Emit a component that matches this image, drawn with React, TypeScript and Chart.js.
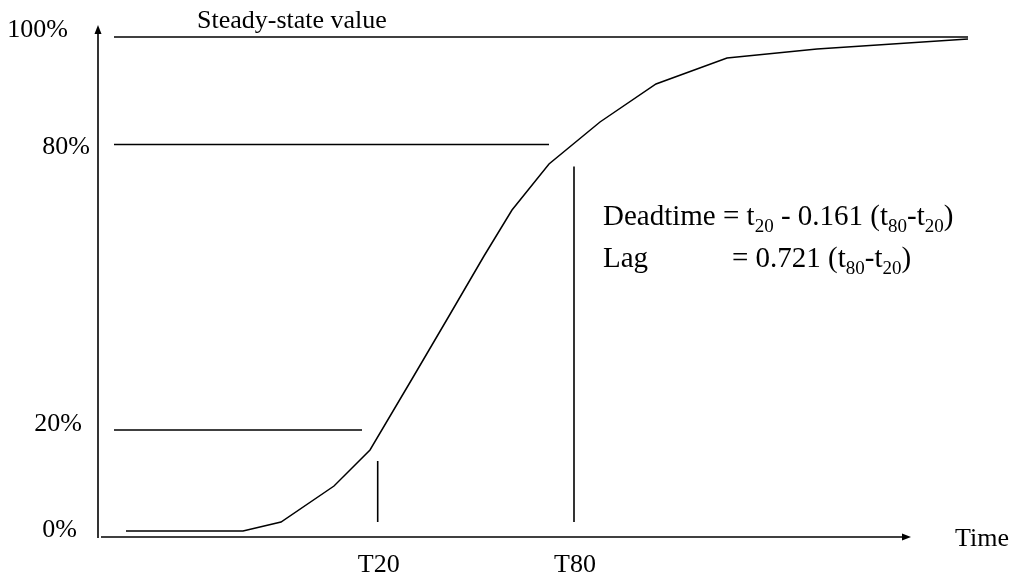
import React, { useEffect, useRef } from "react";
import { Chart, registerables } from "chart.js";

Chart.register(...registerables);

// Response curve (time in arbitrary units, response in % of steady state)
const timeValues = [2.8, 14.5, 18.3, 23.6, 27.2, 31.4, 35.1, 38.6, 41.4, 45.1, 50.2, 55.8, 62.9, 71.9, 87.0];
const responseValues = [1.2, 1.2, 3.0, 10.2, 17.4, 31.6, 44.2, 56.2, 65.4, 74.6, 83.0, 90.6, 95.8, 97.6, 99.6];

// Horizontal reference levels
const levelNames = ["Steady-state", "80%", "20%"];
const levelValues = [100, 78.5, 21.4];
const levelStart = 1.6;
const levelEnds = [87, 45.1, 26.4];

// Y tick labels
const tickLabels = ["100%", "80%", "20%", "0%"];
const tickValues = [100, 78.5, 21.4, 0];

// Vertical T20 / T80 markers
const markerLabels = ["T20", "T80"];
const markerTimes = [27.97, 47.6];
const markerTops = [15.2, 74.1];
const markerBottom = 3.0;

const AXIS_ARROW_X = 81.3;
const AXIS_ARROW_Y = 102.4;

const SERIF = '"Liberation Serif", "Times New Roman", serif';

const annotationPlugin = {
  id: "diagramAnnotations",
  afterDraw(chart: any) {
    const ctx = chart.ctx as CanvasRenderingContext2D;
    const xs = chart.scales.x;
    const ys = chart.scales.y;
    const x0 = xs.getPixelForValue(0);
    const y0 = ys.getPixelForValue(0);
    ctx.save();
    ctx.strokeStyle = "#000";
    ctx.fillStyle = "#000";
    ctx.lineWidth = 1.6;

    // Y axis with arrow
    const yTip = ys.getPixelForValue(AXIS_ARROW_Y);
    ctx.beginPath();
    ctx.moveTo(x0, y0 + 1);
    ctx.lineTo(x0, yTip + 6);
    ctx.stroke();
    ctx.beginPath();
    ctx.moveTo(x0, yTip);
    ctx.lineTo(x0 - 3.5, yTip + 9);
    ctx.lineTo(x0 + 3.5, yTip + 9);
    ctx.closePath();
    ctx.fill();

    // X axis with arrow
    const xTip = xs.getPixelForValue(AXIS_ARROW_X);
    ctx.beginPath();
    ctx.moveTo(x0 + 3, y0);
    ctx.lineTo(xTip - 6, y0);
    ctx.stroke();
    ctx.beginPath();
    ctx.moveTo(xTip, y0);
    ctx.lineTo(xTip - 9, y0 - 3.5);
    ctx.lineTo(xTip - 9, y0 + 3.5);
    ctx.closePath();
    ctx.fill();

    // Texts
    ctx.font = `26px ${SERIF}`;
    ctx.textBaseline = "alphabetic";

    // tick labels (right aligned)
    const tickOffsets = [
      { dx: -30, dy: 0 },
      { dx: -8, dy: 9 },
      { dx: -16, dy: 1 },
      { dx: -21, dy: 0 },
    ];
    ctx.textAlign = "right";
    tickLabels.forEach((t, i) => {
      ctx.fillText(t, x0 + tickOffsets[i].dx, ys.getPixelForValue(tickValues[i]) + tickOffsets[i].dy);
    });

    // steady-state title
    ctx.textAlign = "left";
    ctx.fillText("Steady-state value", xs.getPixelForValue(9.9), ys.getPixelForValue(100) - 9);

    // axis name
    ctx.fillText("Time", xs.getPixelForValue(85.7), y0 + 9);

    // marker labels
    ctx.textAlign = "center";
    markerLabels.forEach((t, i) => {
      ctx.fillText(t, xs.getPixelForValue(markerTimes[i]) + 1, y0 + 35);
    });

    // formula
    const drawRich = (parts: [string, boolean][], x: number, y: number) => {
      ctx.textAlign = "left";
      let cx = x;
      for (const [txt, sub] of parts) {
        ctx.font = sub ? `19px ${SERIF}` : `29px ${SERIF}`;
        ctx.fillText(txt, cx, sub ? y + 7 : y);
        cx += ctx.measureText(txt).width;
      }
    };
    const fx = xs.getPixelForValue(50.5);
    const fy1 = ys.getPixelForValue(62.4);
    drawRich(
      [
        ["Deadtime = t", false],
        ["20", true],
        [" - 0.161 (t", false],
        ["80", true],
        ["-t", false],
        ["20", true],
        [")", false],
      ],
      fx,
      fy1
    );
    ctx.font = `29px ${SERIF}`;
    ctx.fillText("Lag", fx, fy1 + 42);
    drawRich(
      [
        ["= 0.721 (t", false],
        ["80", true],
        ["-t", false],
        ["20", true],
        [")", false],
      ],
      fx + 129,
      fy1 + 42
    );

    ctx.restore();
  },
};

export default function App() {
  const canvasRef = useRef<HTMLCanvasElement | null>(null);

  useEffect(() => {
    document.body.style.margin = "0";
    const canvas = canvasRef.current;
    if (!canvas) return;

    const lineStyle = {
      borderColor: "#000",
      backgroundColor: "#000",
      pointRadius: 0,
      showLine: true,
      fill: false,
      tension: 0,
      clip: false,
    };

    const datasets: any[] = [
      {
        ...lineStyle,
        label: "Response",
        borderWidth: 1.5,
        data: timeValues.map((t, i) => ({ x: t, y: responseValues[i] })),
      },
      ...levelNames.map((name, i) => ({
        ...lineStyle,
        label: name,
        borderWidth: 1.6,
        data: [
          { x: levelStart, y: levelValues[i] },
          { x: levelEnds[i], y: levelValues[i] },
        ],
      })),
      ...markerLabels.map((name, i) => ({
        ...lineStyle,
        label: name,
        borderWidth: 1.6,
        data: [
          { x: markerTimes[i], y: markerBottom },
          { x: markerTimes[i], y: markerTops[i] },
        ],
      })),
    ];

    const chart = new Chart(canvas, {
      type: "scatter",
      data: { datasets },
      options: {
        responsive: false,
        animation: false,
        layout: { padding: { left: 98, right: 47, top: 37, bottom: 41 } },
        plugins: {
          legend: { display: false },
          tooltip: { enabled: false },
          title: { display: false },
        },
        elements: { line: { borderCapStyle: "butt" } },
        scales: {
          x: { type: "linear", min: 0, max: 87, display: false },
          y: { type: "linear", min: 0, max: 100, display: false },
        },
      },
      plugins: [annotationPlugin],
    });

    return () => chart.destroy();
  }, []);

  return (
    <div style={{ position: "absolute", left: 0, top: 0, width: 1015, height: 578, background: "#fff" }}>
      <canvas ref={canvasRef} width={1015} height={578} style={{ width: 1015, height: 578, display: "block" }} />
    </div>
  );
}
